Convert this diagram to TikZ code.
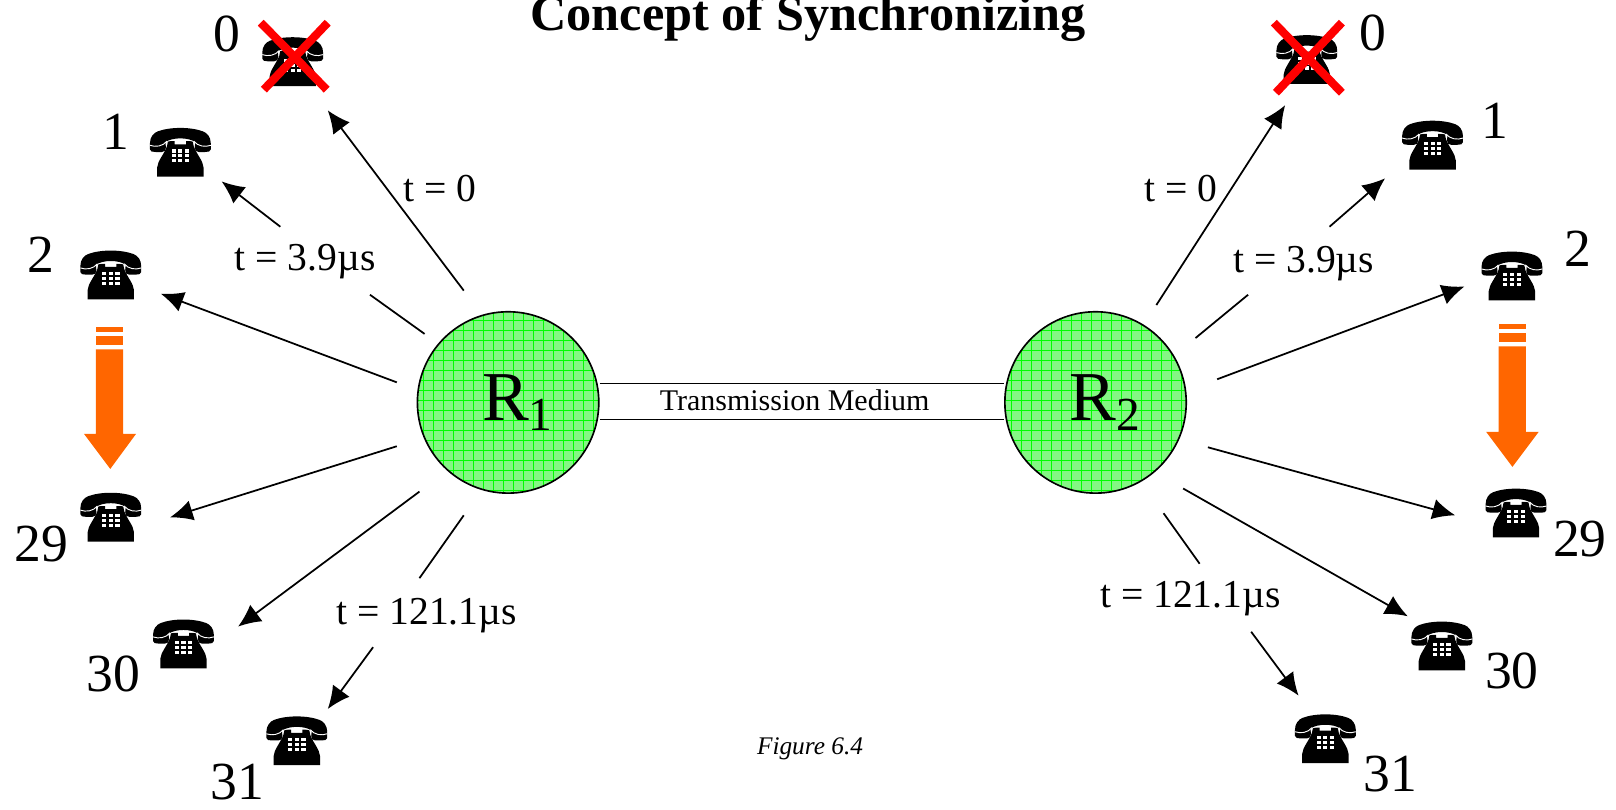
\documentclass[tikz,border=0pt]{standalone}
\usepackage{fontspec}
\setmainfont{Liberation Serif}
\usetikzlibrary{arrows.meta}
\definecolor{orangeA}{HTML}{FF6600}
\definecolor{greenfill}{HTML}{84F684}
\tikzset{
  conn/.style={line width=0.85pt,black},
  arrowconn/.style={conn,-{Latex[length=11pt,width=10pt]}},
  num/.style={font=\fontsize{26}{28}\selectfont,inner sep=0pt},
  tlabel/.style={font=\fontsize{19.2}{21}\selectfont,inner sep=0pt},
  router/.style={circle,draw=black,line width=0.8pt,minimum size=88pt,inner sep=0pt,fill=greenfill,
    font=\fontsize{34}{36}\selectfont,
    path picture={\draw[green,line width=0.3pt,step=4.85pt] (path picture bounding box.south west) grid (path picture bounding box.north east);}},
  crossline/.style={red,line width=4pt},
  medium/.style={line width=0.7pt,black},
  phone/.pic={
    \fill[black] (-12,-11) -- (-5.5,-11) -- (-5.5,-8) -- (5.5,-8) -- (5.5,-11) -- (12,-11) -- (13,-6)
       .. controls (16,2) and (22,8) .. (22.5,14.5) -- (22.5,23.5) -- (-22.5,23.5) -- (-22.5,14.5)
       .. controls (-22,8) and (-16,2) .. (-13,-6) -- cycle;
    \draw[white,line width=0.6pt] (-14.5,-10) .. controls (-8,-14) and (8,-14) .. (14.5,-10);
    \fill[black] (-29.5,-9)
       .. controls (-29.5,-15) and (-26,-19) .. (-22,-20.5)
       .. controls (-10,-25) and (10,-25) .. (22,-20.5)
       .. controls (26,-19) and (29.5,-15) .. (29.5,-9)
       -- (29.5,-3) .. controls (29.5,-1) and (27,-0.5) .. (24,-0.5) -- (18,-0.5)
       .. controls (15,-0.5) and (14,-2) .. (14,-5) -- (14.5,-10)
       .. controls (8,-15) and (-8,-15) .. (-14.5,-10) -- (-14,-5)
       .. controls (-14,-2) and (-15,-0.5) .. (-18,-0.5) -- (-24,-0.5)
       .. controls (-27,-0.5) and (-29.5,-1) .. (-29.5,-3) -- cycle;
    \draw[white,line width=0.45pt] (-29.5,-7) .. controls (-24,-5) and (-17,-6) .. (-13,-11);
    \draw[white,line width=0.45pt] (29.5,-7) .. controls (24,-5) and (17,-6) .. (13,-11);
    \foreach \bx in {-6.5,0,6.5}\foreach \by in {-1.5,3.2,8}
      \fill[white] (\bx-2,\by-1.5) rectangle (\bx+2,\by+1.5);
  },
  phone/.default={}
}
\begin{document}
\begin{tikzpicture}[x=0.5pt,y=-0.5pt]
\useasboundingbox (0,0) rectangle (1568,785);
% title and caption
\node[font=\bfseries\fontsize{24.4}{26}\selectfont,inner sep=0pt,anchor=base] (title) at (784,30) {Concept of Synchronizing};
\node[font=\itshape\fontsize{12.3}{14}\selectfont,inner sep=0pt] (caption) at (786,727) {Figure 6.4};
% routers
\node[router] (R1) at (493,390.5) {\hspace{9pt}R\raisebox{-5pt}{\fontsize{23}{24}\selectfont 1}};
\node[router] (R2) at (1063,390.5) {\hspace{9pt}R\raisebox{-5pt}{\fontsize{23}{24}\selectfont 2}};
% transmission medium
\coordinate (m1a) at (R1.east |- 0,372); \coordinate (m1b) at (R2.west |- 0,372);
\coordinate (m2a) at (R1.east |- 0,407); \coordinate (m2b) at (R2.west |- 0,407);
\draw[medium] (m1a) -- (m1b);
\draw[medium] (m2a) -- (m2b);
\node[font=\fontsize{14.55}{16}\selectfont,inner sep=0pt] (tm) at (771,388) {Transmission Medium};
% phones
\pic (pL0) at (284,60) {phone};
\pic (pL1) at (175,148) {phone};
\pic (pL2) at (107.5,267) {phone};
\pic (pL29) at (107.5,502) {phone};
\pic (pL30) at (178,625) {phone};
\pic (pL31) at (288,719) {phone};
\pic (pR0) at (1268,58) {phone};
\pic (pR1) at (1390,141) {phone};
\pic (pR2) at (1467,268) {phone};
\pic (pR29) at (1471,498) {phone};
\pic (pR30) at (1399,627) {phone};
\pic (pR31) at (1286,717) {phone};
% numbers
\node[num] (nL0) at (220,33) {0};
\node[num] (nL1) at (112,128) {1};
\node[num] (nL2) at (40,247) {2};
\node[num] (nL29) at (40,528) {29};
\node[num] (nL30) at (110,654) {30};
\node[num] (nL31) at (230,759) {31};
\node[num] (nR0) at (1332,32) {0};
\node[num] (nR1) at (1450,117) {1};
\node[num] (nR2) at (1531,241) {2};
\node[num] (nR29) at (1533,523) {29};
\node[num] (nR30) at (1467,651) {30};
\node[num] (nR31) at (1349,751) {31};
% time labels
\node[tlabel] (tL0) at (427,183) {t = 0};
\node[tlabel] (tL1) at (296,254) {t = 3.9µs};
\node[tlabel] (tL31) at (414,597) {t = 121.1µs};
\node[tlabel] (tR0) at (1146,183) {t = 0};
\node[tlabel] (tR1) at (1265,256) {t = 3.9µs};
\node[tlabel] (tR31) at (1155,581) {t = 121.1µs};
% connector end points
\coordinate (a1) at (450,282); \coordinate (a2) at (318,107);
\coordinate (b1) at (412,324); \coordinate (b2) at (359,286);
\coordinate (b3) at (272,220); \coordinate (b4) at (215,176);
\coordinate (c1) at (385,371); \coordinate (c2) at (156,285);
\coordinate (d1) at (385,433); \coordinate (d2) at (165,502);
\coordinate (e1) at (407,477); \coordinate (e2) at (231,608);
\coordinate (f1) at (450,500); \coordinate (f2) at (407,561);
\coordinate (f3) at (362,628); \coordinate (f4) at (318,688);
\coordinate (g1) at (1122,296); \coordinate (g2) at (1247,102);
\coordinate (h1) at (1160,328); \coordinate (h2) at (1211,286);
\coordinate (h3) at (1290,220); \coordinate (h4) at (1344,173);
\coordinate (i1) at (1181,368); \coordinate (i2) at (1421,278);
\coordinate (j1) at (1172,434); \coordinate (j2) at (1412,500);
\coordinate (k1) at (1148,474); \coordinate (k2) at (1366,598);
\coordinate (l1) at (1129,498); \coordinate (l2) at (1164,547);
\coordinate (l3) at (1214,613); \coordinate (l4) at (1260,675);
% connectors
\draw[arrowconn] (a1) -- (a2);
\draw[conn] (b1) -- (b2);
\draw[arrowconn] (b3) -- (b4);
\draw[arrowconn] (c1) -- (c2);
\draw[arrowconn] (d1) -- (d2);
\draw[arrowconn] (e1) -- (e2);
\draw[conn] (f1) -- (f2);
\draw[arrowconn] (f3) -- (f4);
\draw[arrowconn] (g1) -- (g2);
\draw[conn] (h1) -- (h2);
\draw[arrowconn] (h3) -- (h4);
\draw[arrowconn] (i1) -- (i2);
\draw[arrowconn] (j1) -- (j2);
\draw[arrowconn] (k1) -- (k2);
\draw[conn] (l1) -- (l2);
\draw[arrowconn] (l3) -- (l4);
% red crosses
\draw[crossline] (253,22) -- (317,87);
\draw[crossline] (318,22) -- (256,87);
\draw[crossline] (1236,22) -- (1302,90);
\draw[crossline] (1302,22) -- (1238,90);
% orange arrows
\fill[orangeA] (93,317) rectangle (119.5,322);
\fill[orangeA] (93,326) rectangle (119.5,335);
\fill[orangeA] (93,339) -- (119.5,339) -- (119.5,421) -- (132,421) -- (107,455) -- (81.5,421) -- (93,421) -- cycle;
\fill[orangeA] (1454,314) rectangle (1480.5,319);
\fill[orangeA] (1454,323) rectangle (1480.5,332);
\fill[orangeA] (1454,336) -- (1480.5,336) -- (1480.5,419) -- (1493,419) -- (1467.5,453) -- (1442,419) -- (1454,419) -- cycle;
\end{tikzpicture}
\end{document}
